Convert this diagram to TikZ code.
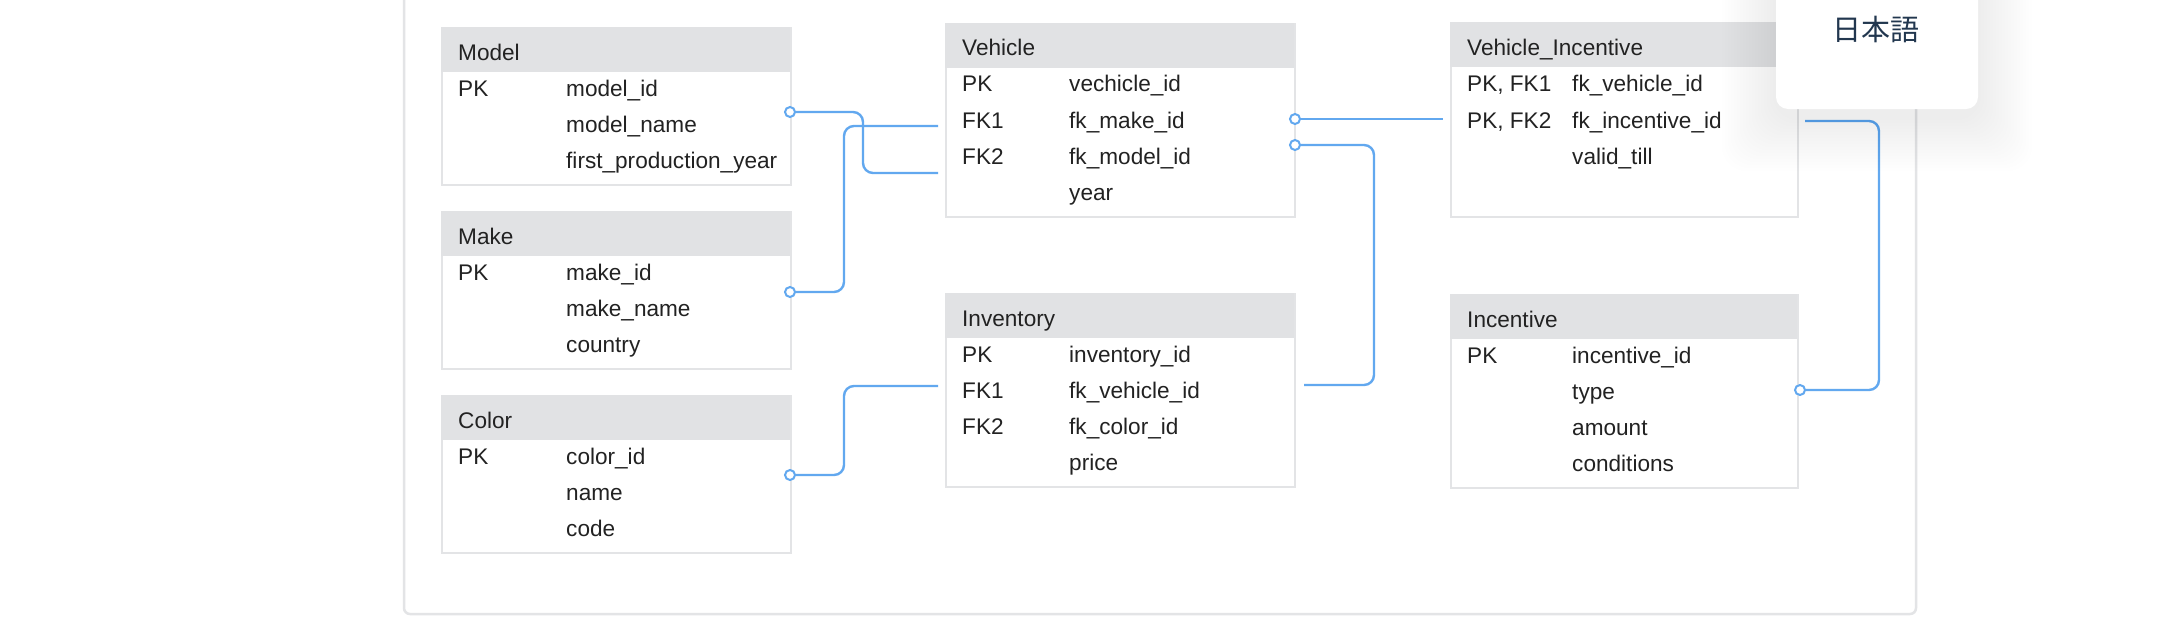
\documentclass[tikz,border=0pt]{standalone}
\usepackage{fontspec}
\setmainfont{Liberation Sans}
\newfontfamily\cjk{Noto Sans CJK JP}
\usetikzlibrary{calc,positioning,fit}

\definecolor{ink}{HTML}{222222}
\definecolor{headgray}{HTML}{E1E2E4}
\definecolor{edgegray}{HTML}{E3E4E6}
\definecolor{linkblue}{HTML}{62A8EF}
\definecolor{navy}{HTML}{22374F}

\tikzset{
  frame/.style={draw=edgegray, line width=2.5pt, rounded corners=6pt},
  box/.style={draw=edgegray, line width=2pt, fill=white, inner sep=0pt, anchor=north west, minimum width=349pt},
  rbox/.style={box, minimum width=347pt},
  head/.style={fill=headgray, inner sep=0pt, anchor=north west, minimum width=349pt, minimum height=45pt},
  rhead/.style={head, minimum width=347pt},
  cell/.style={anchor=base west, inner sep=0pt, text=ink},
  link/.style={draw=linkblue, line width=2.4pt, rounded corners=10pt},
  dot/.style={circle, draw=linkblue, fill=white, line width=2pt, minimum size=10pt, inner sep=0pt},
  popup/.style={fill=white, rounded corners=12pt, inner sep=0pt},
  haze/.style={fill=black, opacity=0.0045, rounded corners=24pt}
}

\begin{document}
\begin{tikzpicture}[x=1pt, y=-1pt, font=\fontsize{22.6}{27}\selectfont]
\useasboundingbox (0,0) rectangle (2182,626);
\clip (0,0) rectangle (2182,626);
\fill[white] (0,0) rectangle (2182,626);
% outer frame
\draw[frame] (404,-30) -- (404,614) -- (1916,614) -- (1916,-30);

% left column
\node[box, minimum height=157pt] (model) at (441,27) {};
\node[head] (model-h) at (model.north west) {};
\node[cell] (model-t) at ($(model.north west)+(17,33)$) {Model};
\foreach \k/\f [count=\i from 0] in {PK/model\_id, /model\_name, /first\_production\_year}{
  \node[cell] (model-k\i) at ($(model.north west)+(17,69+36*\i)$) {\k};
  \node[cell] (model-f\i) at ($(model.north west)+(125,69+36*\i)$) {\f};
}

\node[box, minimum height=157pt] (make) at (441,211) {};
\node[head] (make-h) at (make.north west) {};
\node[cell] (make-t) at ($(make.north west)+(17,33)$) {Make};
\foreach \k/\f [count=\i from 0] in {PK/make\_id, /make\_name, /country}{
  \node[cell] (make-k\i) at ($(make.north west)+(17,69+36*\i)$) {\k};
  \node[cell] (make-f\i) at ($(make.north west)+(125,69+36*\i)$) {\f};
}

\node[box, minimum height=157pt] (color) at (441,395) {};
\node[head] (color-h) at (color.north west) {};
\node[cell] (color-t) at ($(color.north west)+(17,33)$) {Color};
\foreach \k/\f [count=\i from 0] in {PK/color\_id, /name, /code}{
  \node[cell] (color-k\i) at ($(color.north west)+(17,69+36*\i)$) {\k};
  \node[cell] (color-f\i) at ($(color.north west)+(125,69+36*\i)$) {\f};
}

% middle column
\node[box, minimum height=193pt] (vehicle) at (945,23) {};
\node[head] (vehicle-h) at (vehicle.north west) {};
\node[cell] (vehicle-t) at ($(vehicle.north west)+(17,33)$) {Vehicle};
\foreach \k/\f [count=\i from 0] in {PK/vechicle\_id, FK1/fk\_make\_id, FK2/fk\_model\_id, /year}{
  \node[cell] (vehicle-k\i) at ($(vehicle.north west)+(17,69+36*\i)$) {\k};
  \node[cell] (vehicle-f\i) at ($(vehicle.north west)+(124,69+36*\i)$) {\f};
}

\node[box, minimum height=193pt] (inventory) at (945,293) {};
\node[head] (inventory-h) at (inventory.north west) {};
\node[cell] (inventory-t) at ($(inventory.north west)+(17,33)$) {Inventory};
\foreach \k/\f [count=\i from 0] in {PK/inventory\_id, FK1/fk\_vehicle\_id, FK2/fk\_color\_id, /price}{
  \node[cell] (inventory-k\i) at ($(inventory.north west)+(17,69+36*\i)$) {\k};
  \node[cell] (inventory-f\i) at ($(inventory.north west)+(124,69+36*\i)$) {\f};
}

% right column
\node[rbox, minimum height=194pt] (vi) at (1450,22) {};
\node[rhead] (vi-h) at (vi.north west) {};
\node[cell] (vi-t) at ($(vi.north west)+(17,34)$) {Vehicle\_Incentive};
\foreach \k/\f [count=\i from 0] in {PK{,} FK1/fk\_vehicle\_id, PK{,} FK2/fk\_incentive\_id, /valid\_till}{
  \node[cell] (vi-k\i) at ($(vi.north west)+(17,70+36*\i)$) {\k};
  \node[cell] (vi-f\i) at ($(vi.north west)+(122,70+36*\i)$) {\f};
}

\node[rbox, minimum height=193pt] (incentive) at (1450,294) {};
\node[rhead] (incentive-h) at (incentive.north west) {};
\node[cell] (incentive-t) at ($(incentive.north west)+(17,33)$) {Incentive};
\foreach \k/\f [count=\i from 0] in {PK/incentive\_id, /type, /amount, /conditions}{
  \node[cell] (incentive-k\i) at ($(incentive.north west)+(17,69+36*\i)$) {\k};
  \node[cell] (incentive-f\i) at ($(incentive.north west)+(122,69+36*\i)$) {\f};
}

% connection points
\coordinate (model-o) at ($(model.north east)+(-2,85)$);
\coordinate (make-o) at ($(make.north east)+(-2,81)$);
\coordinate (color-o) at ($(color.north east)+(-2,80)$);
\coordinate (veh-i1) at ($(vehicle.north west)+(-7,103)$);
\coordinate (veh-i2) at ($(vehicle.north west)+(-7,150)$);
\coordinate (veh-o1) at ($(vehicle.north east)+(-1,96)$);
\coordinate (veh-o2) at ($(vehicle.north east)+(-1,122)$);
\coordinate (inv-i) at ($(inventory.north west)+(-7,93)$);
\coordinate (inv-o) at ($(inventory.north east)+(8,92)$);
\coordinate (vi-i) at ($(vi.north west)+(-7,97)$);
\coordinate (vi-o) at ($(vi.north east)+(6,99)$);
\coordinate (inc-o) at ($(incentive.north east)+(1,96)$);

% links
\draw[link] (model-o) -- ++(73,0) |- (veh-i2);
\draw[link] (make-o) -- ++(54,0) |- (veh-i1);
\draw[link] (color-o) -- ++(54,0) |- (inv-i);
\draw[link] (veh-o1) -- (vi-i);
\draw[link] (veh-o2) -- ++(79,0) |- (inv-o);
\draw[link] (vi-o) -- ++(74,0) |- (inc-o);
\node[dot] (model-d) at (model-o) {};
\node[dot] (make-d) at (make-o) {};
\node[dot] (color-d) at (color-o) {};
\node[dot] (veh-d1) at (veh-o1) {};
\node[dot] (veh-d2) at (veh-o2) {};
\node[dot] (inc-d) at (inc-o) {};

% language popup, soft shadow first
\coordinate (lang-nw) at (1776,-31);
\coordinate (lang-se) at (1978,109);
\foreach \s in {3,6,...,54}
  \fill[haze] ($(lang-nw)+(-\s,-\s+8)$) rectangle ($(lang-se)+(\s,\s+8)$);
\node[popup, fit=(lang-nw)(lang-se)] (lang) {};
\node[font=\cjk\fontsize{29}{34}\selectfont, text=navy, inner sep=0pt] (lang-t) at (1876,29) {日本語};
\end{tikzpicture}
\end{document}
